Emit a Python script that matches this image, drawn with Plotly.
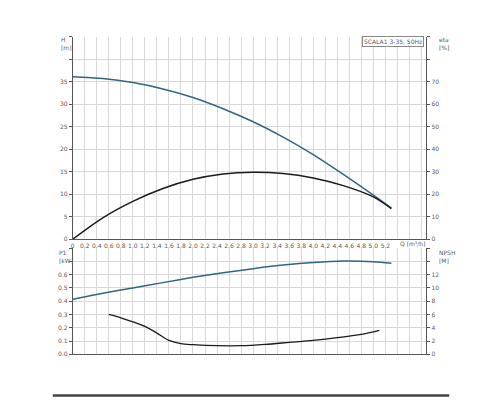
import plotly.graph_objects as go

# ---- data ----
q_head = [0, 0.5, 1.0, 1.5, 2.0, 2.5, 3.0, 3.5, 4.0, 4.5, 5.0, 5.3]
head_m = [36.1, 35.7, 34.8, 33.4, 31.5, 29.0, 26.1, 22.7, 18.8, 14.4, 9.8, 6.9]

q_eta = [0, 0.5, 1.0, 1.5, 2.0, 2.5, 3.0, 3.5, 4.0, 4.5, 5.0, 5.3]
eta_pct = [0, 9.5, 16.8, 22.5, 26.6, 29.0, 29.8, 29.2, 27.2, 23.8, 18.8, 13.6]

q_p1 = [0, 0.5, 1.0, 1.5, 2.0, 2.5, 3.0, 3.5, 4.0, 4.5, 5.0, 5.3]
p1_kw = [0.415, 0.46, 0.50, 0.54, 0.58, 0.615, 0.645, 0.672, 0.692, 0.703, 0.698, 0.686]

q_npsh = [0.6, 0.8, 1.0, 1.2, 1.4, 1.6, 1.8, 2.0, 2.4, 2.8, 3.2, 3.6, 4.0, 4.4, 4.8, 5.1]
npsh_m = [6.0, 5.5, 4.9, 4.2, 3.2, 2.1, 1.6, 1.45, 1.3, 1.3, 1.5, 1.8, 2.1, 2.5, 3.0, 3.6]

x_ticks = [round(0.2 * i, 1) for i in range(30)]
x_labels = [("0" if v == 0 else f"{v:.1f}") if v <= 5.2 + 1e-9 else "" for v in x_ticks]
h_ticks = list(range(0, 50, 5))
h_labels = [str(v) if v <= 35 else "" for v in h_ticks]
eta_ticks = list(range(0, 100, 10))
eta_labels = [str(v) if v <= 70 else "" for v in eta_ticks]
p1_ticks = [round(0.1 * i, 1) for i in range(9)]
p1_labels = [f"{v:.1f}" if v <= 0.6 + 1e-9 else "" for v in p1_ticks]
npsh_ticks = list(range(0, 18, 2))
npsh_labels = [str(v) if v <= 12 else "" for v in npsh_ticks]

BLUE = "#2f6682"
BLACK = "#1b1b1b"
GRID = "#d9d9d9"
AX = "#555555"
TXT = "#5a5a5a"
FONT = dict(family="DejaVu Sans", size=6, color=TXT)

fig = go.Figure()
fig.add_trace(go.Scatter(x=q_head, y=head_m, mode="lines",
                         line=dict(color=BLUE, width=1.5, shape="spline", smoothing=0.8),
                         xaxis="x", yaxis="y", showlegend=False))
fig.add_trace(go.Scatter(x=q_eta, y=eta_pct, mode="lines",
                         line=dict(color=BLACK, width=1.5, shape="spline", smoothing=0.8),
                         xaxis="x", yaxis="y2", showlegend=False))
fig.add_trace(go.Scatter(x=q_p1, y=p1_kw, mode="lines",
                         line=dict(color=BLUE, width=1.5, shape="spline", smoothing=0.8),
                         xaxis="x2", yaxis="y3", showlegend=False))
fig.add_trace(go.Scatter(x=q_npsh, y=npsh_m, mode="lines",
                         line=dict(color=BLACK, width=1.3, shape="spline", smoothing=0.8),
                         xaxis="x2", yaxis="y4", showlegend=False))

xr = [0, 5.88]
xd = [71 / 500, 426 / 500]
top_d = [1 - 241 / 400, 1 - 37 / 400]
bot_d = [1 - 357 / 400, 1 - 250 / 400]

common_x = dict(range=xr, domain=xd, tickmode="array", tickvals=x_ticks, showgrid=True, gridcolor=GRID,
                gridwidth=1, zeroline=False, showline=True, linecolor=AX, linewidth=1, tickfont=FONT,
                ticks="", fixedrange=True)

fig.update_layout(
    width=500, height=400, margin=dict(l=0, r=0, t=0, b=0),
    paper_bgcolor="white", plot_bgcolor="white",
    xaxis=dict(common_x, anchor="y", ticktext=x_labels, ticklabelstandoff=1),
    xaxis2=dict(common_x, anchor="y3", ticktext=["" for _ in x_ticks], showticklabels=False),
    yaxis=dict(domain=top_d, range=[0, 45], tickmode="array", tickvals=h_ticks, ticktext=h_labels,
               showgrid=True, gridcolor=GRID, zeroline=False, showline=True, linecolor=AX,
               ticks="outside", ticklen=3, tickcolor=AX, tickfont=FONT, anchor="x"),
    yaxis2=dict(domain=top_d, range=[0, 90], tickmode="array", tickvals=eta_ticks, ticktext=eta_labels,
                overlaying="y", side="right", showgrid=False, zeroline=False, showline=True, linecolor=AX,
                ticks="outside", ticklen=3, tickcolor=AX, tickfont=FONT, anchor="x"),
    yaxis3=dict(domain=bot_d, range=[0, 0.8], tickmode="array", tickvals=p1_ticks, ticktext=p1_labels,
                showgrid=True, gridcolor=GRID, zeroline=False, showline=True, linecolor=AX,
                ticks="outside", ticklen=3, tickcolor=AX, tickfont=FONT, anchor="x2"),
    yaxis4=dict(domain=bot_d, range=[0, 16], tickmode="array", tickvals=npsh_ticks, ticktext=npsh_labels,
                overlaying="y3", side="right", showgrid=False, zeroline=False, showline=True, linecolor=AX,
                ticks="outside", ticklen=3, tickcolor=AX, tickfont=FONT, anchor="x2"),
)

def px_ann(text, x, y, xanchor="center", yanchor="middle", **kw):
    fig.add_annotation(text=text, x=x / 500, y=1 - y / 400, xref="paper", yref="paper",
                       xanchor=xanchor, yanchor=yanchor, showarrow=False, font=FONT, align="left", **kw)

px_ann("H<br>[m]", 57, 44, xanchor="left")
px_ann("eta<br>[%]", 437, 44, xanchor="left")
px_ann("P1<br>[kW]", 55, 258, xanchor="left")
px_ann("NPSH<br>[M]", 437, 258, xanchor="left")
px_ann("Q [m³/h]", 412, 245)
px_ann("SCALA1 3-35, 50Hz", 424, 42, xanchor="right", bordercolor="#888888", borderwidth=1,
       borderpad=1, bgcolor="white")

fig.add_shape(type="line", xref="paper", yref="paper", x0=51 / 500, x1=449 / 500,
              y0=1 - 398.5 / 400, y1=1 - 398.5 / 400, line=dict(color="#444444", width=2.5))

fig.write_html("out.html")
